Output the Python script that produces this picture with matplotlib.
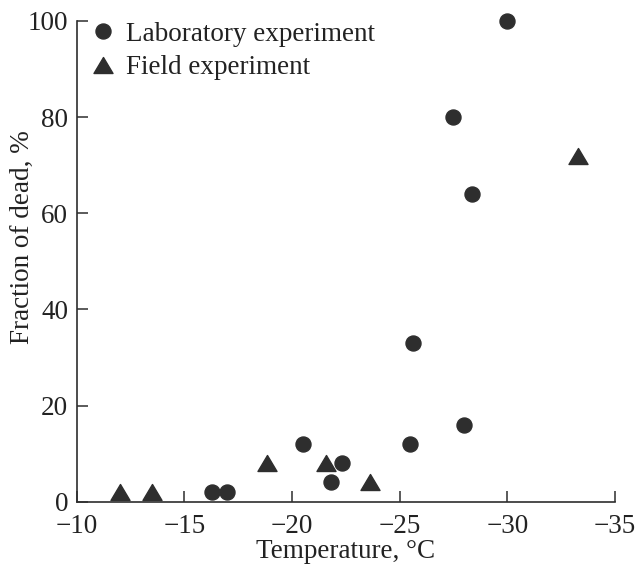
import matplotlib

matplotlib.use("Agg")
import matplotlib.pyplot as plt
from matplotlib.path import Path

# laboratory freezing runs
LAB_TEMP = [-16.3, -17.0, -20.5, -21.8, -22.3, -25.5, -25.6, -27.5, -28.0, -28.35, -30.0]
LAB_DEAD = [2, 2, 12, 4, 8, 12, 33, 80, 16, 64, 100]

# field observations
FIELD_TEMP = [-12.0, -13.5, -18.85, -21.6, -23.6, -33.3]
FIELD_DEAD = [2, 2, 8, 8, 4, 72]

XTICKS = [-10, -15, -20, -25, -30, -35]
YTICKS = [0, 20, 40, 60, 80, 100]

INK = "#2e2e2e"
TXT = "#222222"
FS = 19.5

plt.rcParams["font.family"] = ["Liberation Serif", "DejaVu Serif"]

# slightly squat triangle
tri = Path([(-1, -0.84), (1, -0.84), (0, 0.84), (-1, -0.84)],
           [Path.MOVETO, Path.LINETO, Path.LINETO, Path.CLOSEPOLY])

fig = plt.figure(figsize=(6.39, 5.64), dpi=100)
ax = fig.add_axes([0.120, 0.1105, 0.8424, 0.8523])

ax.plot(LAB_TEMP, LAB_DEAD, ls="none", marker="o", ms=10.8, color=INK,
        mec=INK, clip_on=False, zorder=3, label="Laboratory experiment")
ax.plot(FIELD_TEMP, FIELD_DEAD, ls="none", marker=tri, ms=13.7, color=INK,
        mec=INK, clip_on=False, zorder=3, label="Field experiment")

ax.set_xlim(-10, -35)
ax.set_ylim(0, 100)
ax.set_xticks(XTICKS)
ax.set_yticks(YTICKS)

for side in ("top", "right"):
    ax.spines[side].set_visible(False)
for side in ("left", "bottom"):
    ax.spines[side].set_color(INK)
    ax.spines[side].set_linewidth(1.2)

ax.tick_params(direction="in", length=8, width=1.1, color=INK,
               labelsize=FS, labelcolor=TXT)
ax.tick_params(axis="x", pad=9)
ax.tick_params(axis="y", pad=6)

ax.set_xlabel("Temperature, °C", fontsize=FS, color=TXT, labelpad=0)
ax.set_ylabel("Fraction of dead, %", fontsize=FS, color=TXT)
ax.yaxis.set_label_coords(-0.0775, 0.55)

ax.legend(loc="upper left", bbox_to_anchor=(-0.011, 1.032), frameon=False,
          fontsize=FS, handletextpad=0.25, labelspacing=0.31,
          borderaxespad=0.2, handlelength=1.2, labelcolor=TXT)

fig.savefig("out.png", dpi=100)
